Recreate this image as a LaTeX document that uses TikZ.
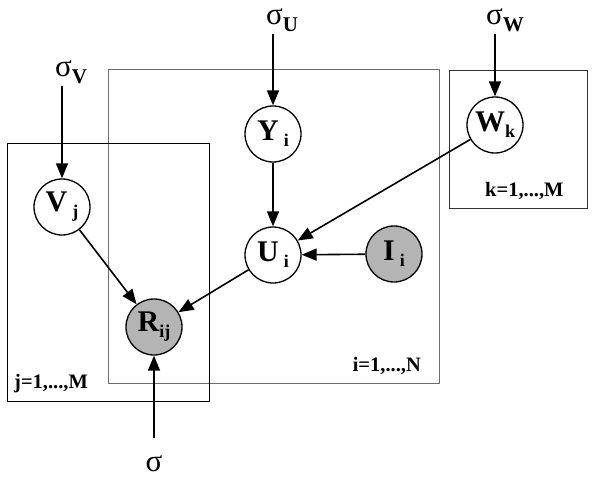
\documentclass[tikz,border=0pt]{standalone}
\usepackage{fontspec}
\setmainfont{Liberation Serif}
\usetikzlibrary{arrows.meta}
\definecolor{obsgray}{RGB}{180,180,180}
\definecolor{plategray}{RGB}{110,110,110}
\newcommand\subsc[1]{\raisebox{-6pt}{\fontsize{18}{18}\selectfont\bfseries #1}}
\newcommand\sigsub[1]{\raisebox{-7pt}{\fontsize{21}{21}\selectfont\bfseries #1}}
\begin{document}
\begin{tikzpicture}[x=1pt,y=-1pt,
  var/.style={circle, draw, line width=1.3pt, minimum size=56pt, inner sep=0pt, fill=white,
    font=\fontsize{30}{30}\selectfont\bfseries},
  obs/.style={var, fill=obsgray},
  plate/.style={draw, line width=0.9pt},
  platelabel/.style={inner sep=0pt, font=\fontsize{20.5}{20.5}\selectfont\bfseries},
  siglabel/.style={inner sep=0pt, font=\fontsize{31}{31}\selectfont},
  edge/.style={-{Triangle[length=15pt,width=12pt]}, line width=1.6pt}]
\useasboundingbox (0,0) rectangle (593,484);
% plates
\draw[plate, draw=plategray] (108,69) rectangle (439,383);
\draw[plate] (7,143) rectangle (209,401);
\draw[plate, draw=black!80] (449,70) rectangle (587,208);
\node[platelabel, anchor=south east] (li) at (421,375) {i=1,...,N};
\node[platelabel, anchor=south west] (lj) at (14,393) {j=1,...,M};
\node[platelabel, anchor=south west] (lk) at (485,200) {k=1,...,M};
% nodes
\node[var] (Y) at (273,134) {Y\,\subsc{i}};
\node[var] (V) at (62,207) {V\,\subsc{j}};
\node[var] (W) at (495,125) {W\subsc{k}};
\node[var] (U) at (273,255) {U\,\subsc{i}};
\node[obs] (I) at (394,254) {I\,\subsc{i}};
\node[obs] (R) at (154,327) {R\subsc{ij}};
% hyperparameters
\node[siglabel] (sU) at (282,20) {σ\sigsub{U}};
\node[siglabel] (sV) at (71,72) {σ\sigsub{V}};
\node[siglabel] (sW) at (505,20) {σ\sigsub{W}};
\node[siglabel] (s) at (154,464) {σ};
% edges
\draw[edge] (sU.south -| Y) ++(0,2) -- (Y);
\draw[edge] (sV.south -| V) ++(0,2) -- (V);
\draw[edge] (sW.south -| W) ++(0,2) -- (W);
\draw[edge] (s.north -| R) ++(0,-18) -- (R);
\draw[edge] (Y) -- (U);
\draw[edge] (W) -- (U);
\draw[edge] (I) -- (U);
\draw[edge] (U) -- (R);
\draw[edge] (V) -- (R);
\end{tikzpicture}
\end{document}
